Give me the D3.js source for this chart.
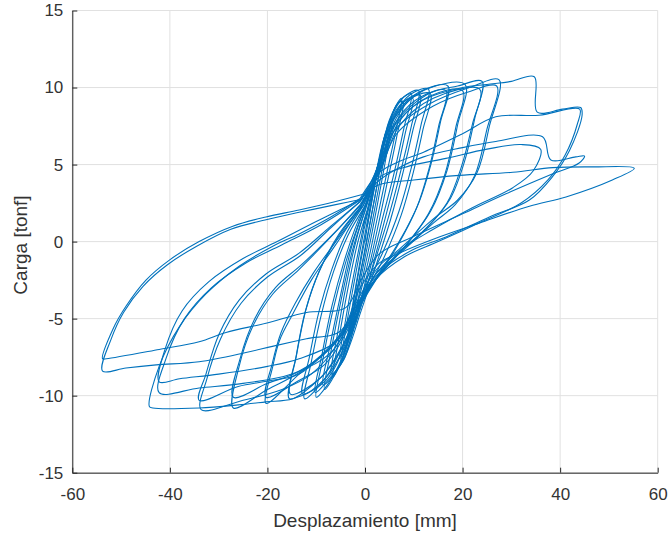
<!DOCTYPE html>
<html>
<head>
<meta charset="utf-8">
<script src="https://cdnjs.cloudflare.com/ajax/libs/d3/7.8.5/d3.min.js"></script>
<style>
  body { margin: 0; background: #fff; }
  svg { display: block; font-family: "Liberation Sans", Arial, Helvetica, sans-serif; }
</style>
</head>
<body>
<div id="chart-area"></div>
<script>
// tick labels
var xTicks = [-60, -40, -20, 0, 20, 40, 60];
var yTicks = [-15, -10, -5, 0, 5, 10, 15];

// load cycles [desplazamiento mm, carga tonf]
var cyc01 = [[0,0],[1.5,3],[3,5.6],[4,6.8],[3,4.6],[1.5,2],[0,-0.6],[-1.5,-3],[-2.8,-5.4],[-3.5,-6.5],[-2.5,-4.2],[-1,-1.5],[0.5,1]];
var cyc01b = [[0.5,1],[2,3.6],[3.4,6],[4.2,7.1],[3.2,5],[1.6,2.2],[-0.2,-0.8],[-1.8,-3.4],[-3.2,-5.8],[-3.9,-6.9],[-2.8,-4.6],[-1.2,-1.6],[0.4,1.2]];
var cyc02 = [[0.4,1.2],[2.5,4.4],[4.3,7],[5.5,8.2],[4.3,6],[2.8,3.5],[1,0.5],[-1,-2.6],[-3.3,-6],[-5,-7.9],[-3.9,-5.6],[-2.2,-2.6],[-0.2,0.8]];
var cyc02b = [[-0.2,0.8],[2.2,4.2],[4.1,6.9],[5.6,8.0],[4.5,5.8],[3,3.2],[1.2,0.2],[-0.8,-2.8],[-3.1,-6.1],[-5.2,-7.6],[-4.1,-5.3],[-2.4,-2.3],[-0.3,1.0]];
var cyc03 = [[-0.3,1.0],[2.4,4.3],[4.8,7.5],[6.3,8.8],[7.5,9.3],[6.2,7],[4.5,4.5],[2.5,1.5],[0.5,-1.5],[-2,-4.6],[-4.5,-7.5],[-6.6,-8.8],[-5.4,-6.4],[-3.6,-3.2],[-1.6,-0.2],[0.4,2]];
var cyc03b = [[0.4,2],[2.6,4.8],[4.9,7.6],[6.6,8.9],[7.8,9.1],[6.5,6.8],[4.8,4.2],[2.8,1.2],[0.7,-1.8],[-1.8,-4.9],[-4.4,-7.7],[-6.9,-8.6],[-5.7,-6.1],[-3.9,-2.9],[-1.8,0.1],[0.2,2.2]];
var cyc04 = [[0.2,2.2],[2.5,4.6],[5,7.9],[7.3,9.2],[9.5,9.6],[8,7.4],[6,4.5],[3.5,1.4],[1,-1.8],[-2,-5],[-5,-7.9],[-8.3,-9.6],[-6.9,-7],[-4.9,-3.8],[-2.6,-0.6],[0,2]];
var cyc04b = [[0,2],[2.4,4.7],[5.2,7.8],[7.6,9.0],[9.8,9.3],[8.3,7.1],[6.3,4.2],[3.8,1.1],[1.2,-2],[-1.8,-5.2],[-5.2,-8.1],[-8.6,-9.3],[-7.2,-6.8],[-5.1,-3.6],[-2.8,-0.4],[-0.2,2.1]];
var cyc05 = [[-0.2,2.1],[2.6,4.9],[5,7.8],[8,9.4],[11,9.8],[9.5,7.5],[7.5,4.8],[5,1.8],[2,-1.3],[-1,-4.2],[-4.5,-7.4],[-7.5,-9.2],[-10,-10.1],[-8.6,-7.6],[-6.6,-4.5],[-4,-1.4],[-1.5,1],[0.5,2.6]];
var cyc05b = [[0.5,2.6],[2.8,5],[5.4,7.7],[8.4,9.2],[11.3,9.5],[9.8,7.2],[7.8,4.5],[5.3,1.5],[2.3,-1.5],[-0.8,-4.5],[-4.3,-7.6],[-7.6,-9.0],[-10.2,-9.8],[-8.8,-7.3],[-6.8,-4.2],[-4.2,-1.2],[-1.6,1.2],[0.3,2.5]];
var cyc06 = [[0.3,2.5],[3,5.3],[6,8.2],[9.5,9.6],[13,9.9],[11.5,7.6],[9.5,4.8],[7,2],[3.5,-0.8],[0,-3],[-3.5,-6],[-8,-8.8],[-12.4,-10.2],[-11,-7.8],[-9,-4.8],[-6.5,-2],[-3.5,0.4],[0,2.3]];
var cyc06b = [[0,2.3],[3.2,5.1],[6.4,8],[10,9.4],[13.4,9.6],[11.9,7.3],[9.9,4.5],[7.4,1.7],[3.8,-1.1],[0.2,-3.3],[-3.3,-6.3],[-8.2,-8.9],[-12.8,-9.9],[-11.4,-7.5],[-9.4,-4.5],[-6.8,-1.8],[-3.7,0.6],[-0.2,2.4]];
var cyc07 = [[-0.2,2.4],[3,5],[6.5,8.3],[11,9.7],[17,10.1],[15.5,7.8],[13.5,5],[11,2.5],[7,0],[3,-2],[-0.5,-3.8],[-4,-6.4],[-9,-8.8],[-15.5,-10.2],[-14.2,-7.6],[-12.3,-4.6],[-9.5,-2],[-5.5,0.3],[-1,2.2]];
var cyc07b = [[-1,2.2],[3.2,4.8],[6.8,8],[11.5,9.4],[16.6,9.8],[15.1,7.5],[13.1,4.7],[10.6,2.2],[6.6,-0.3],[2.6,-2.3],[-0.8,-4.1],[-4.3,-6.7],[-9.3,-8.9],[-15.3,-9.9],[-14,-7.3],[-12,-4.3],[-9.2,-1.8],[-5.3,0.5],[-1,2.2]];
var cyc08 = [[-1,2.2],[2.5,4.8],[6,8],[12,9.8],[20.5,10.2],[19,7.6],[16.8,4.6],[13.5,2],[9,0],[4,-1.8],[0,-3.3],[-3.5,-5.5],[-6.7,-6.8],[-13.5,-8.6],[-20.3,-10.5],[-18.9,-8.1],[-17.5,-6.4],[-14.8,-4.7],[-11,-2.5],[-6,-0.2],[-1,2.2]];
var cyc08b = [[-1,2.2],[3,4.6],[7,7.8],[13,9.4],[20,9.8],[18.6,7.4],[16.4,4.4],[13,1.8],[8.5,-0.2],[3.5,-2],[-0.5,-3.6],[-4,-6],[-8,-7.9],[-14,-9.1],[-20.3,-10.1],[-19,-7.9],[-17.2,-5.9],[-14.3,-4],[-10.5,-2],[-5.5,0.2],[-0.5,2.3]];
var cyc09 = [[-0.5,2.3],[3,4.8],[6,7.6],[13,9.6],[19,10.1],[24,10.4],[22.5,8],[20.5,5.3],[17.5,2.8],[13,1],[7,-0.7],[2,-2.5],[-2,-4.3],[-6,-6.4],[-13,-8.4],[-20,-9.6],[-27,-10.8],[-25.8,-8.1],[-23,-5.5],[-18.9,-3.4],[-13.5,-1.8],[-7,0.3],[-1,2.4]];
var cyc09b = [[-1,2.4],[3,4.5],[7,7.5],[14,9.3],[23.5,9.9],[22,7.6],[19.8,4.9],[16.8,2.5],[12,0.7],[6,-1],[1.5,-2.8],[-2.5,-4.8],[-7,-6.9],[-14,-8.5],[-20,-9.2],[-27,-10.1],[-25.6,-7.6],[-22.6,-5],[-18.4,-3],[-13,-1.5],[-6.5,0.5],[-0.5,2.5]];
var cyc10 = [[-0.5,2.5],[3,4.8],[6,7.2],[13,8.9],[21.4,10],[27.5,10.5],[25.5,7.5],[23,4.5],[19,2.7],[14.5,1.6],[7,-0.5],[2.9,-1.6],[-1,-3.5],[-5,-6],[-13.5,-8.6],[-19,-9],[-26,-9.4],[-34,-10.3],[-32.6,-8.6],[-29.9,-6],[-25.8,-3.8],[-20.3,-2.1],[-13.5,-0.75],[-7,1],[-1,2.6]];
var cyc10b = [[-1,2.6],[3,4.6],[6.5,7],[14,8.8],[21,9.7],[27,10.1],[25,7.3],[22.5,4.3],[18.5,2.4],[14,1.2],[7,-0.8],[2.5,-2],[-1.5,-4],[-5.5,-6.6],[-11,-8.6],[-17,-9.6],[-25,-10.3],[-33.6,-10.9],[-32.4,-8.9],[-29.6,-6.3],[-25.4,-4],[-20,-2.3],[-13.2,-0.9],[-7,0.9],[-1,2.6]];
var cyc11 = [[-1,2.6],[3,5],[6,7.5],[12,9.2],[20,10],[25,10.2],[30,10.4],[34.7,10.7],[35.3,8.4],[40.5,8.6],[44.2,8.7],[44.5,8.2],[41.9,5.9],[38.4,4.2],[33.7,2.7],[25.5,1.6],[16.6,0.3],[9.7,-0.55],[3,-2],[-1,-3.8],[-3.5,-6.2],[-8,-9],[-14.8,-10.2],[-20.3,-10.4],[-26,-10.6],[-34,-10.8],[-43.5,-10.8],[-44.2,-10.7],[-42.2,-8.1],[-38,-5.5],[-32.6,-3.4],[-25.8,-1.6],[-18.9,-0.3],[-13.5,0.5],[-7,1.6],[-1,2.8]];
var cyc11b = [[-1,2.8],[3,4.5],[7,5.2],[12,5.8],[20,7],[26.8,8.1],[35.7,8.2],[44,8.6],[43.5,7.6],[41,5.6],[37.5,4],[32,2.5],[24,1.3],[15,0],[8,-1],[2,-2.5],[-2,-4.5],[-6,-6.5],[-13.5,-7.6],[-20,-8.1],[-30,-8.6],[-38,-8.9],[-42.2,-9.1],[-41,-7],[-37.5,-4.5],[-32,-2.6],[-25,-1.1],[-18,0],[-10,1.3],[-1,2.7]];
var cyc11c = [[-1,2.7],[3,4.2],[9,4.9],[16.6,5.4],[25,6.0],[32,6.3],[36,6.0],[34.5,4.6],[30.3,3.5],[22,2.2],[14,0.8],[7,-0.6],[2,-2.2],[-2,-4.6],[-7,-7.2],[-15,-8.6],[-25,-9.2],[-34,-9.5],[-42.2,-9.8],[-40.8,-7.6],[-37,-5],[-31.5,-3],[-24.5,-1.4],[-17,-0.2],[-9,1.1],[-1,2.7]];
var cyc12 = [[-1,2.7],[3,4],[7,4.8],[12,5.5],[20,6.1],[26.8,6.5],[36.4,6.8],[38.1,5.3],[43.2,5.5],[45,5.55],[43.9,5.1],[38.5,4.4],[28.9,3.1],[20,1.8],[9.7,0.3],[2.9,-0.8],[-1,-2.6],[-4,-4.3],[-12,-4.6],[-20.3,-5.3],[-28.5,-5.9],[-34,-6.5],[-42.2,-7.0],[-53,-7.6],[-53.8,-7.6],[-51.7,-5.7],[-49,-4.2],[-44.9,-2.5],[-40.1,-1.2],[-34,0],[-27.1,1],[-20.3,1.6],[-13.5,2.05],[-6,2.6],[0,3.1]];
var cyc13 = [[0,3.1],[3,3.7],[10,4.0],[19.3,4.3],[30.3,4.5],[38.5,4.8],[46.7,4.85],[55.2,4.76],[50.7,4],[41.2,2.9],[33.7,2.3],[23.4,1.2],[15.2,0.3],[7,-0.75],[2.9,-1.4],[-1,-3],[-5,-5.8],[-12,-6.3],[-19,-6.8],[-24.4,-7.2],[-34,-7.8],[-42.8,-8.0],[-49,-8.2],[-53.8,-8.4],[-52,-6.3],[-49.5,-4.6],[-45.5,-2.9],[-40.5,-1.5],[-34.5,-0.3],[-27.5,0.8],[-20.5,1.4],[-13.5,1.9],[-6,2.4],[0,2.8]];

var cycles = [cyc01, cyc01b, cyc02, cyc02b, cyc03, cyc03b, cyc04, cyc04b, cyc05, cyc05b,
              cyc06, cyc06b, cyc07, cyc07b, cyc08, cyc08b, cyc09, cyc09b, cyc10, cyc10b,
              cyc11, cyc11b, cyc11c, cyc12, cyc13];

var width = 668, height = 536;

var svg = d3.select("#chart-area").append("svg")
    .attr("width", width)
    .attr("height", height);

var x = d3.scaleLinear().domain([-60, 60]).range([72.3, 657.7]);
var y = d3.scaleLinear().domain([-15, 15]).range([472.7, 10.5]);

// grid
svg.append("g").selectAll("line")
    .data(xTicks)
    .enter().append("line")
    .attr("x1", function(d){ return x(d); })
    .attr("x2", function(d){ return x(d); })
    .attr("y1", y(-15))
    .attr("y2", y(15))
    .attr("stroke", "#e1e1e1")
    .attr("stroke-width", 1);

svg.append("g").selectAll("line")
    .data(yTicks)
    .enter().append("line")
    .attr("x1", x(-60))
    .attr("x2", x(60))
    .attr("y1", function(d){ return y(d); })
    .attr("y2", function(d){ return y(d); })
    .attr("stroke", "#e1e1e1")
    .attr("stroke-width", 1);

// curve
var line = d3.line()
    .x(function(d){ return x(d[0]); })
    .y(function(d){ return y(d[1]); })
    .curve(d3.curveCatmullRom.alpha(0.5));

svg.append("g").selectAll("path")
    .data(cycles)
    .enter().append("path")
    .attr("d", line)
    .attr("fill", "none")
    .attr("stroke", "#0072bd")
    .attr("stroke-width", 1.1)
    .attr("stroke-linejoin", "round");

// axes (plain hyphen for negatives, like the original)
var fmt = function(d){ return String(d); };

var xAxisCall = d3.axisBottom(x)
    .tickValues(xTicks)
    .tickFormat(fmt)
    .tickSizeInner(-5)
    .tickSizeOuter(0)
    .tickPadding(15);

var xAxis = svg.append("g")
    .attr("transform", "translate(0," + y(-15) + ")")
    .call(xAxisCall);

var yAxisCall = d3.axisLeft(y)
    .tickValues(yTicks)
    .tickFormat(fmt)
    .tickSizeInner(-5)
    .tickSizeOuter(0)
    .tickPadding(9);

var yAxis = svg.append("g")
    .attr("transform", "translate(" + x(-60) + ",0)")
    .call(yAxisCall);

[xAxis, yAxis].forEach(function(a){
    a.select(".domain").attr("stroke", "#262626");
    a.selectAll(".tick line").attr("stroke", "#262626");
    a.selectAll(".tick text")
        .attr("fill", "#333")
        .attr("font-size", "17px")
        .attr("font-family", "Liberation Sans, Arial, sans-serif");
});

// labels
svg.append("text")
    .attr("x", 365)
    .attr("y", 527)
    .attr("text-anchor", "middle")
    .attr("font-size", "19px")
    .attr("fill", "#333")
    .text("Desplazamiento [mm]");

svg.append("text")
    .attr("transform", "rotate(-90)")
    .attr("x", -245)
    .attr("y", 27)
    .attr("text-anchor", "middle")
    .attr("font-size", "19px")
    .attr("fill", "#333")
    .text("Carga [tonf]");
</script>
</body>
</html>
